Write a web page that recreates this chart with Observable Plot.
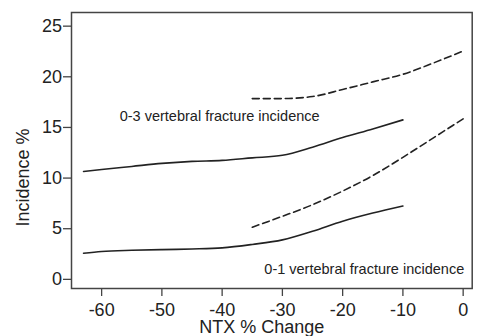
<!DOCTYPE html>
<html>
<head>
<meta charset="utf-8">
<script src="https://cdn.jsdelivr.net/npm/d3@7"></script>
<script src="https://cdn.jsdelivr.net/npm/@observablehq/plot@0.6"></script>
<style>
  html, body { margin: 0; padding: 0; background: #fff; }
  #chart svg { display: block; }
</style>
</head>
<body>
<div id="chart"></div>
<script>
// NTX % change values
const xSolid = [-63, -60, -55, -50, -45, -40, -35, -30, -25, -20, -15, -10];
const xDashed = [-35, -30, -25, -20, -15, -10, -5, 0];
// 0-3 vertebral fracture incidence
const upperSolid = [10.5, 10.7, 11.0, 11.3, 11.5, 11.6, 11.85, 12.1, 12.9, 13.85, 14.7, 15.6];
const upperDashed = [17.7, 17.7, 17.9, 18.6, 19.35, 20.1, 21.2, 22.4];
// 0-1 vertebral fracture incidence
const lowerSolid = [2.43, 2.6, 2.72, 2.79, 2.85, 2.96, 3.3, 3.75, 4.6, 5.6, 6.4, 7.1];
const lowerDashed = [5.0, 6.08, 7.22, 8.57, 10.1, 11.9, 13.8, 15.7];

const xTicks = [-60, -50, -40, -30, -20, -10, 0];
const yTicks = [0, 5, 10, 15, 20, 25];
const xTitle = "NTX % Change";
const yTitle = "Incidence %";
const labels = ["0-3 vertebral fracture incidence", "0-1 vertebral fracture incidence"];
const labelX = [-57, -33];
const labelY = [15.9, 0.85];

const mk = (xs, ys, name) => xs.map((x, i) => ({x, y: ys[i], name}));
const solid = [...mk(xSolid, upperSolid, "upper"), ...mk(xSolid, lowerSolid, "lower")];
const dashed = [...mk(xDashed, upperDashed, "upper"), ...mk(xDashed, lowerDashed, "lower")];
const labelData = labels.map((t, i) => ({t, x: labelX[i], y: labelY[i]}));

const ink = "#222";
const fmt = d => String(d);
const plot = Plot.plot({
  width: 481,
  height: 336,
  marginLeft: 71,
  marginRight: 9.3,
  marginTop: 12,
  marginBottom: 48,
  style: {fontFamily: "'Liberation Sans', Arial, sans-serif", color: ink, background: "#fff"},
  x: {domain: [-65, 1.5]},
  y: {domain: [-1.05, 26.2]},
  marks: [
    Plot.frame({stroke: "#444", strokeWidth: 1.5}),
    Plot.axisX({ticks: xTicks, tickFormat: fmt, tickSize: 8, tickPadding: 7, fontSize: 18, label: null, stroke: "#444", strokeWidth: 1.3}),
    Plot.axisY({ticks: yTicks, tickFormat: fmt, tickSize: 8, tickPadding: 1.5, fontSize: 18, label: null, dy: 1.5, stroke: "#444", strokeWidth: 1.3}),
    Plot.line(solid, {x: "x", y: "y", z: "name", stroke: ink, strokeWidth: 1.6, curve: "monotone-x"}),
    Plot.line(dashed, {x: "x", y: "y", z: "name", stroke: ink, strokeWidth: 1.6, strokeDasharray: "7,4", curve: "monotone-x"}),
    Plot.text(labelData, {x: "x", y: "y", text: "t", textAnchor: "start", fontSize: 14.5, fill: ink}),
    Plot.text([xTitle], {frameAnchor: "bottom", textAnchor: "middle", lineAnchor: "middle", dx: -10, dy: 39, fontSize: 18, fill: ink}),
    Plot.text([yTitle], {frameAnchor: "left", textAnchor: "middle", lineAnchor: "middle", rotate: -90, dx: -48.5, dy: 27, fontSize: 18, fill: ink})
  ]
});
document.getElementById("chart").append(plot);
</script>
</body>
</html>
